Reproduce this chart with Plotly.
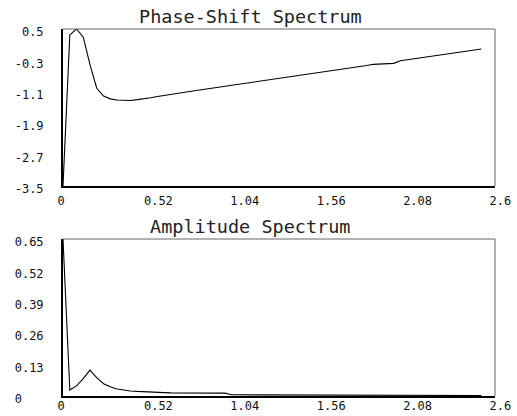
import plotly.graph_objects as go

# ---- data ----
freq = [0.000, 0.041, 0.081, 0.122, 0.162, 0.203, 0.244, 0.284, 0.325, 0.366,
        0.406, 0.447, 0.487, 0.528, 0.569, 0.609, 0.650, 0.690, 0.731, 0.772,
        0.812, 0.853, 0.893, 0.934, 0.975, 1.015, 1.056, 1.097, 1.137, 1.178,
        1.218, 1.259, 1.300, 1.340, 1.381, 1.421, 1.462, 1.503, 1.543, 1.584,
        1.624, 1.665, 1.706, 1.746, 1.787, 1.828, 1.868, 1.909, 1.949, 1.990,
        2.031, 2.071, 2.112, 2.152, 2.193, 2.234, 2.274, 2.315, 2.355, 2.396,
        2.437, 2.477, 2.518]

phase = [-3.50, 0.35, 0.50, 0.29, -0.40, -1.01, -1.21, -1.28, -1.31, -1.32,
         -1.32, -1.30, -1.28, -1.25, -1.22, -1.19, -1.16, -1.135, -1.111, -1.086,
         -1.062, -1.037, -1.013, -0.988, -0.964, -0.939, -0.915, -0.890, -0.866, -0.841,
         -0.817, -0.792, -0.768, -0.743, -0.719, -0.694, -0.670, -0.645, -0.621, -0.596,
         -0.572, -0.547, -0.523, -0.498, -0.474, -0.43, -0.40, -0.39, -0.385, -0.375,
         -0.31, -0.285, -0.26, -0.235, -0.21, -0.185, -0.16, -0.135, -0.11, -0.085,
         -0.06, -0.035, -0.01]

amplitude = [0.650, 0.025, 0.042, 0.072, 0.107, 0.076, 0.051, 0.038, 0.029, 0.024,
             0.021, 0.019, 0.017, 0.016, 0.015, 0.014, 0.013, 0.013, 0.012, 0.012,
             0.011, 0.011, 0.010, 0.010, 0.012, 0.005, 0.005, 0.005, 0.005, 0.004,
             0.004, 0.004, 0.004, 0.004, 0.004, 0.004, 0.003, 0.003, 0.003, 0.003,
             0.003, 0.003, 0.003, 0.003, 0.003, 0.003, 0.003, 0.003, 0.002, 0.002,
             0.002, 0.002, 0.002, 0.002, 0.002, 0.002, 0.002, 0.002, 0.002, 0.002,
             0.002, 0.002, 0.002]

x_ticks = [0, 0.52, 1.04, 1.56, 2.08, 2.6]
x_ticklabels = ["0", "0.52", "1.04", "1.56", "2.08", "2.6"]
phase_ticks = [0.5, -0.3, -1.1, -1.9, -2.7, -3.5]
phase_ticklabels = ["0.5", "-0.3", "-1.1", "-1.9", "-2.7", "-3.5"]
amp_ticks = [0.65, 0.52, 0.39, 0.26, 0.13, 0]
amp_ticklabels = ["0.65", "0.52", "0.39", "0.26", "0.13", "0"]

title_phase = "Phase-Shift Spectrum"
title_amp = "Amplitude Spectrum"

# ---- figure ----
W, H = 517, 416
NB = "\u00a0"
FONT = "DejaVu Sans Mono"


def pad4(s):
    return s + NB * (4 - len(s))


def ypad(s):
    # digits aligned as in the reference (a sign slot on the left)
    if s.startswith("-") or len(s) == 4:
        return s
    if len(s) == 3:
        return NB + s
    return s + NB * (4 - len(s))


fig = go.Figure()
fig.add_trace(go.Scatter(x=freq, y=phase, mode="lines", xaxis="x", yaxis="y",
                         line=dict(color="black", width=1.1), showlegend=False))
fig.add_trace(go.Scatter(x=freq, y=amplitude, mode="lines", xaxis="x2", yaxis="y2",
                         line=dict(color="black", width=1.1), showlegend=False))

left, right = 63 / W, 495 / W
top_dom = [1 - 186 / H, 1 - 29 / H]
bot_dom = [1 - 396 / H, 1 - 239 / H]

tickfont = dict(family=FONT, size=12, color="#111")

xcommon = dict(range=[0, 2.6], tickmode="array", tickvals=x_ticks,
               ticktext=[pad4(t) for t in x_ticklabels], ticks="",
               showgrid=False, zeroline=False, showline=True, linecolor="black",
               linewidth=2, tickfont=tickfont, ticklabelshift=9,
               ticklabeloverflow="allow", automargin=False, domain=[left, right])
ycommon = dict(tickmode="array", ticks="", showgrid=False, zeroline=False,
               showline=True, linecolor="black", linewidth=2, tickfont=tickfont,
               ticklabelstandoff=15, ticklabelshift=3, automargin=False)

fig.update_layout(
    template="none",
    width=W, height=H, margin=dict(l=0, r=0, t=0, b=0, autoexpand=False),
    paper_bgcolor="white", plot_bgcolor="white",
    xaxis=dict(**xcommon, anchor="y", ticklabelstandoff=3),
    yaxis=dict(**ycommon, domain=top_dom, anchor="x", range=[-3.5, 0.5],
               tickvals=phase_ticks, ticktext=[ypad(t) for t in phase_ticklabels]),
    xaxis2=dict(**xcommon, anchor="y2", ticklabelstandoff=-2),
    yaxis2=dict(**ycommon, domain=bot_dom, anchor="x2", range=[0, 0.65],
                tickvals=amp_ticks, ticktext=[ypad(t) for t in amp_ticklabels]),
)

# gray top/right frame edges
for xr, yr in (("x domain", "y domain"), ("x2 domain", "y2 domain")):
    fig.add_shape(type="line", xref=xr, yref=yr, x0=0, x1=1, y0=1, y1=1,
                  line=dict(color="#666", width=1))
    fig.add_shape(type="line", xref=xr, yref=yr, x0=1, x1=1, y0=0, y1=1,
                  line=dict(color="#666", width=1))

titlefont = dict(family=FONT, size=18.5, color="#222")
fig.add_annotation(text=title_phase, xref="paper", yref="paper", x=250 / W, y=1 - 17 / H,
                   xanchor="center", yanchor="middle", showarrow=False, font=titlefont)
fig.add_annotation(text=title_amp, xref="paper", yref="paper", x=250 / W, y=1 - 227 / H,
                   xanchor="center", yanchor="middle", showarrow=False, font=titlefont)

fig.write_html("out.html")
